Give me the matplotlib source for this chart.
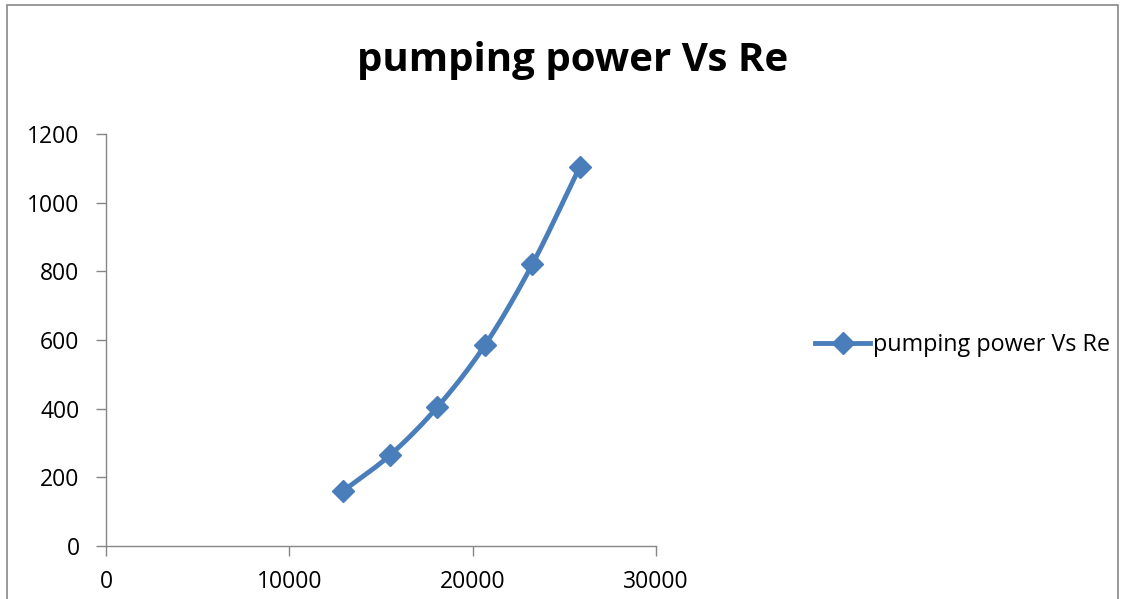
import numpy as np
import matplotlib.pyplot as plt
from matplotlib.patches import Rectangle

# datos
reynolds = [12930, 15500, 18080, 20670, 23250, 25850]
pumping_power = [160, 265, 405, 585, 820, 1105]
x_ticks = [0, 10000, 20000, 30000]
y_ticks = [0, 200, 400, 600, 800, 1000, 1200]

COLOR = "#4A7EBB"
FONT = "Open Sans"


def smooth(x, y, n=30):
    # curva suavizada tipo Excel (Catmull-Rom)
    x = np.asarray(x, float)
    y = np.asarray(y, float)
    px = np.concatenate([[2 * x[0] - x[1]], x, [2 * x[-1] - x[-2]]])
    py = np.concatenate([[2 * y[0] - y[1]], y, [2 * y[-1] - y[-2]]])
    xs, ys = [], []
    t = np.linspace(0, 1, n)
    for i in range(1, len(px) - 2):
        p0, p1, p2, p3 = px[i - 1], px[i], px[i + 1], px[i + 2]
        q0, q1, q2, q3 = py[i - 1], py[i], py[i + 1], py[i + 2]
        cx = 0.5 * (2 * p1 + (-p0 + p2) * t + (2 * p0 - 5 * p1 + 4 * p2 - p3) * t**2 + (-p0 + 3 * p1 - 3 * p2 + p3) * t**3)
        cy = 0.5 * (2 * q1 + (-q0 + q2) * t + (2 * q0 - 5 * q1 + 4 * q2 - q3) * t**2 + (-q0 + 3 * q1 - 3 * q2 + q3) * t**3)
        xs.extend(cx)
        ys.extend(cy)
    return np.array(xs), np.array(ys)


fig = plt.figure(figsize=(11.31, 5.99), dpi=100)
ax = fig.add_axes([106 / 1131, 53 / 599, 550 / 1131, 412 / 599])

# marco del grafico
fig.patches.append(Rectangle((7 / 1131, -0.05), 1111 / 1131, 1.05 - 5 / 599,
                             transform=fig.transFigure, fill=False,
                             edgecolor="#888888", linewidth=1.2))

sx, sy = smooth(reynolds, pumping_power)
ax.plot(sx, sy, color=COLOR, linewidth=3.5, solid_capstyle="round", zorder=2)
ax.plot(reynolds, pumping_power, linestyle="none", marker="D", markersize=11,
        color=COLOR, zorder=3)
# entrada de leyenda
ax.plot([], [], color=COLOR, linewidth=3.5, marker="D", markersize=11,
        label="pumping power Vs Re")

ax.set_xlim(0, 30000)
ax.set_ylim(0, 1200)
ax.set_xticks(x_ticks)
ax.set_yticks(y_ticks)
for lab in ax.get_xticklabels() + ax.get_yticklabels():
    lab.set_fontfamily(FONT)
    lab.set_fontsize(16.5)
ax.tick_params(direction="out", length=7, width=1, color="#868686")
ax.tick_params(axis="x", pad=10)
ax.tick_params(axis="y", pad=12)
for s in ["top", "right"]:
    ax.spines[s].set_visible(False)
for s in ["left", "bottom"]:
    ax.spines[s].set_color("#868686")
    ax.spines[s].set_linewidth(1)

fig.text(573 / 1131, 1 - 60 / 599, "pumping power Vs Re", ha="center", va="center",
         fontsize=29, fontweight="bold", family=FONT)

ax.legend(loc="center left", bbox_to_anchor=(794 / 1131, 1 - 345 / 599),
          bbox_transform=fig.transFigure, frameon=False, handlelength=2.36,
          handletextpad=0.13, prop={"family": FONT, "size": 16.8})

fig.savefig("out.png", dpi=100)
